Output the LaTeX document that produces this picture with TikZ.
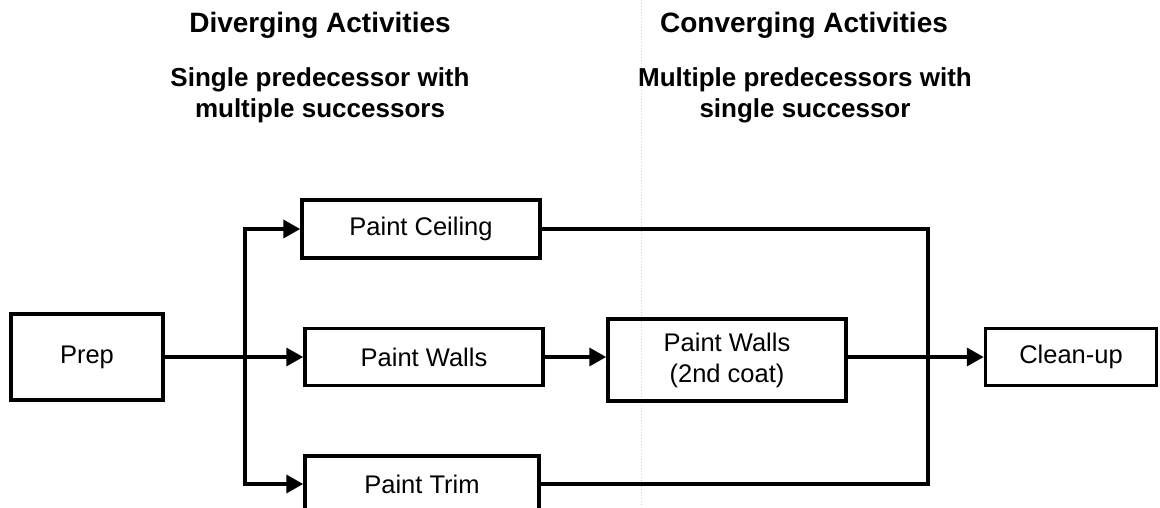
\documentclass[tikz,border=0pt]{standalone}
\usepackage{fontspec}
\setmainfont{Liberation Sans}
\usetikzlibrary{arrows.meta}
\begin{document}
\begin{tikzpicture}[x=1pt,y=-1pt,
  box/.style={draw,line width=3.5pt,rectangle,inner sep=0pt,font=\fontsize{25.5}{31}\selectfont,align=center},
  conn/.style={line width=3.5pt,line join=miter},
  arr/.style={conn,-{Triangle[length=17pt,width=18pt]}},
  heading/.style={font=\bfseries\fontsize{28}{31}\selectfont,align=center},
  subhead/.style={font=\bfseries\fontsize{26}{31}\selectfont,align=center}]
\useasboundingbox (0,0) rectangle (1160,507);
\draw[gray!40,line width=1pt,dotted] (641,0) -- (641,507);
\node[heading] (h1) at (320,25) {Diverging Activities};
\node[subhead] (s1) at (320,95) {Single predecessor with\\multiple successors};
\node[heading] (h2) at (804,25) {Converging Activities};
\node[subhead] (s2) at (805,95) {Multiple predecessors with\\single successor};
\node[box,minimum width=152pt,minimum height=86pt] (prep) at (87,357) {Prep};
\node[box,minimum width=238pt,minimum height=58pt] (ceil) at (421,229) {Paint Ceiling};
\node[box,minimum width=238pt,minimum height=57pt] (walls) at (424,357) {Paint Walls};
\node[box,minimum width=234pt,minimum height=56pt] (trim) at (422,484) {Paint Trim};
\node[box,minimum width=238pt,minimum height=82pt] (coat) at (727,360) {Paint Walls\\(2nd coat)};
\node[box,minimum width=171pt,minimum height=57pt] (clean) at (1071,357) {Clean-up};
\coordinate (d) at (245,357);
\coordinate (j) at (928,357);
\draw[arr] (prep.east) -- (walls.west);
\draw[arr] (d) |- (ceil.west);
\draw[arr] (d) |- (trim.west);
\draw[arr] (walls.east) -- (walls.east -| coat.west);
\draw[conn] (ceil.east) -| (j);
\draw[conn] (trim.east) -| (j);
\draw[arr] (j -| coat.east) -- (clean.west);
\end{tikzpicture}
\end{document}
